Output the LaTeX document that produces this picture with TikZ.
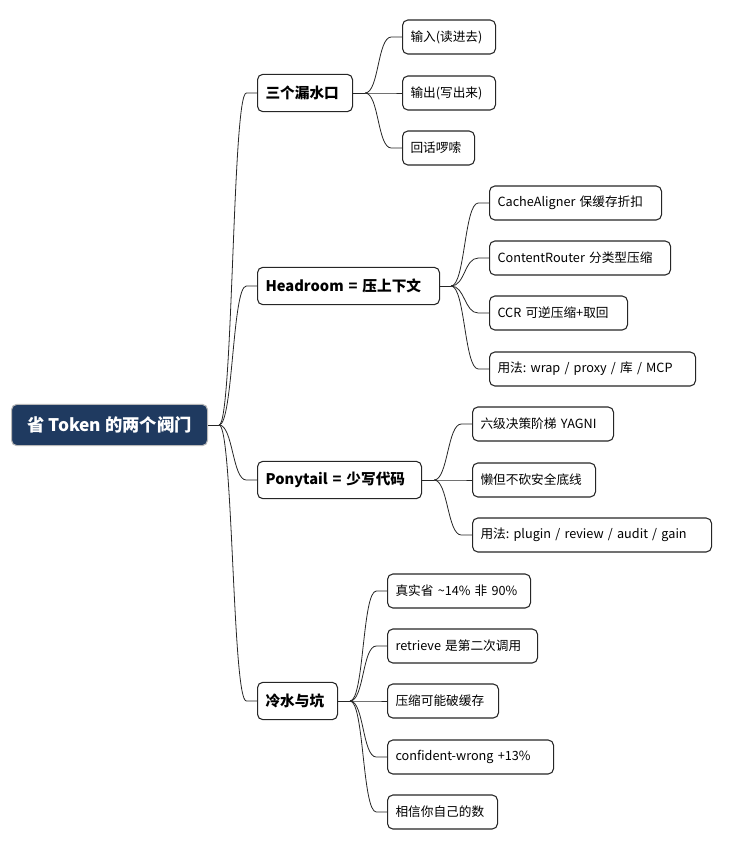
\documentclass[tikz,border=0pt]{standalone}
\usepackage{fontspec}
\setmainfont{Noto Sans CJK SC}
\usetikzlibrary{calc}
\definecolor{mapnavy}{HTML}{1F3A60}

\begin{document}
\begin{tikzpicture}[
    x=0.75pt, y=-0.75pt,
    topic/.style={draw=black!85, line width=0.8pt, rounded corners=4pt, fill=white,
      anchor=west, inner xsep=6pt, inner ysep=0pt, minimum height=25.5pt,
      font=\fontsize{9.5}{11}\selectfont},
    branch/.style={topic, minimum height=28pt, font=\fontsize{11}{13}\selectfont\bfseries},
    central/.style={topic, fill=mapnavy, draw=gray!55, text=white, inner xsep=7pt,
      minimum height=31pt, font=\fontsize{13}{15}\selectfont\bfseries},
    boxw/.style={text width=#1*0.75pt-12pt, align=left},
    wire/.style={line width=0.6pt, draw=black!85},
    link/.style={wire, to path={.. controls +(14,0) and +(-14,0) ..
      ([xshift=-8pt]\tikztotarget.west) -- (\tikztotarget.west)}}
  ]
    \useasboundingbox (0,0) rectangle (730,849);

    \node[central, minimum width=147pt] (root) at (11,425) {省 Token 的两个阀门};

    \node[branch, boxw=95] (leaks) at (257,93) {三个漏水口};
    \node[topic, boxw=93] (input) at (402,37) {输入(读进去)};
    \node[topic, boxw=93] (output) at (402,93) {输出(写出来)};
    \node[topic, boxw=72] (verbose) at (402,148) {回话啰嗦};

    \node[branch, boxw=182] (headroom) at (257,286) {Headroom~=~压上下文};
    \node[topic, boxw=172] (aligner) at (489,203) {CacheAligner~保缓存折扣};
    \node[topic, boxw=181] (router) at (489,258) {ContentRouter~分类型压缩};
    \node[topic, boxw=138] (ccr) at (489,313) {CCR~可逆压缩+取回};
    \node[topic, boxw=206] (hrusage) at (489,369) {用法:~wrap~/~proxy~/~库~/~MCP};

    \node[branch, boxw=164] (ponytail) at (257,480) {Ponytail~=~少写代码};
    \node[topic, boxw=141] (ladder) at (472,424) {六级决策阶梯~YAGNI};
    \node[topic, boxw=123] (lazy) at (472,480) {懒但不砍安全底线};
    \node[topic, boxw=239] (ptusage) at (472,535) {用法:~plugin~/~review~/~audit~/~gain};

    \node[branch, boxw=80] (caveats) at (257,701) {冷水与坑};
    \node[topic, boxw=143] (real) at (387,591) {真实省~\textasciitilde14\%~非~90\%};
    \node[topic, boxw=150] (retrieve) at (387,646) {retrieve~是第二次调用};
    \node[topic, boxw=111] (breakcache) at (387,701) {压缩可能破缓存};
    \node[topic, boxw=166] (wrong) at (387,757) {confident-wrong~+13\%};
    \node[topic, boxw=110] (trust) at (387,812) {相信你自己的数};

    % hubs where the branches split
    \coordinate (hubmap) at ($(root.east)+(11,0)$);
    \coordinate (hubleaks) at ($(leaks.east)+(12,0)$);
    \coordinate (hubhead) at ($(headroom.east)+(11,0)$);
    \coordinate (hubpony) at ($(ponytail.east)+(12,0)$);
    \coordinate (hubcave) at ($(caveats.east)+(12,0)$);

    \draw[wire] (root.east) -- (hubmap);
    \draw[link] (hubmap) to (leaks);
    \draw[link] (hubmap) to (headroom);
    \draw[link] (hubmap) to (ponytail);
    \draw[link] (hubmap) to (caveats);

    \draw[wire] (leaks.east) -- (hubleaks);
    \draw[link] (hubleaks) to (input);
    \draw[link] (hubleaks) to (output);
    \draw[link] (hubleaks) to (verbose);

    \draw[wire] (headroom.east) -- (hubhead);
    \draw[link] (hubhead) to (aligner);
    \draw[link] (hubhead) to (router);
    \draw[link] (hubhead) to (ccr);
    \draw[link] (hubhead) to (hrusage);

    \draw[wire] (ponytail.east) -- (hubpony);
    \draw[link] (hubpony) to (ladder);
    \draw[link] (hubpony) to (lazy);
    \draw[link] (hubpony) to (ptusage);

    \draw[wire] (caveats.east) -- (hubcave);
    \draw[link] (hubcave) to (real);
    \draw[link] (hubcave) to (retrieve);
    \draw[link] (hubcave) to (breakcache);
    \draw[link] (hubcave) to (wrong);
    \draw[link] (hubcave) to (trust);
  \end{tikzpicture}
\end{document}
